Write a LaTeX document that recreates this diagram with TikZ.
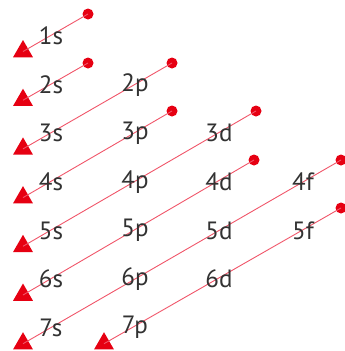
\documentclass[tikz,border=0pt]{standalone}
\usepackage{fontspec}
\setmainfont{PT Sans}
\usetikzlibrary{shapes.geometric}
\definecolor{mred}{RGB}{230,0,18}
\definecolor{lred}{RGB}{240,85,105}
\definecolor{txt}{RGB}{50,50,50}
\tikzset{
  dotnode/.style={circle,fill=mred,inner sep=0pt,minimum size=11pt},
  tri/.style={regular polygon,regular polygon sides=3,fill=mred,inner sep=0pt,minimum size=23pt},
  lbl/.style={text=txt,font=\fontsize{25}{25}\selectfont,inner sep=0pt},
  conn/.style={draw=lred,line width=0.9pt}
}
\begin{document}
\begin{tikzpicture}[x=1pt,y=-1pt]
\useasboundingbox (0,0) rectangle (345,351);
% dots
\node[dotnode] (d1) at (88,14) {};
\node[dotnode] (d2) at (88,63) {};
\node[dotnode] (d3) at (172,63) {};
\node[dotnode] (d4) at (172,111) {};
\node[dotnode] (d5) at (256,111) {};
\node[dotnode] (d6) at (254,160) {};
\node[dotnode] (d7) at (341,160) {};
\node[dotnode] (d8) at (341,208) {};
% triangles
\node[tri] (t1) at (23,51.5) {};
\node[tri] (t2) at (23,100.2) {};
\node[tri] (t3) at (23,148.9) {};
\node[tri] (t4) at (23,197.6) {};
\node[tri] (t5) at (23,246.3) {};
\node[tri] (t6) at (23,295.0) {};
\node[tri] (t7) at (23,343.7) {};
\node[tri] (t8) at (104,343.7) {};
% connectors
\draw[conn] (d1.center) -- (t1.center);
\draw[conn] (d2.center) -- (t2.center);
\draw[conn] (d3.center) -- (t3.center);
\draw[conn] (d4.center) -- (t4.center);
\draw[conn] (d5.center) -- (t5.center);
\draw[conn] (d6.center) -- (t6.center);
\draw[conn] (d7.center) -- (t7.center);
\draw[conn] (d8.center) -- (t8.center);
% labels
\node[lbl] (s1) at (51,36) {1s};
\node[lbl] (s2) at (51,84.6) {2s};
\node[lbl] (s3) at (51,133.2) {3s};
\node[lbl] (s4) at (51,181.8) {4s};
\node[lbl] (s5) at (51,230.4) {5s};
\node[lbl] (s6) at (51,279) {6s};
\node[lbl] (s7) at (51,327.6) {7s};
\node[lbl] (p2) at (135,84.6) {2p};
\node[lbl] (p3) at (135,133.2) {3p};
\node[lbl] (p4) at (135,181.8) {4p};
\node[lbl] (p5) at (135,230.4) {5p};
\node[lbl] (p6) at (135,279) {6p};
\node[lbl] (p7) at (135,327.6) {7p};
\node[lbl] (dd3) at (219,133.2) {3d};
\node[lbl] (dd4) at (219,181.8) {4d};
\node[lbl] (dd5) at (219,230.4) {5d};
\node[lbl] (dd6) at (219,279) {6d};
\node[lbl] (f4) at (303,181.8) {4f};
\node[lbl] (f5) at (303,230.4) {5f};
\end{tikzpicture}
\end{document}
